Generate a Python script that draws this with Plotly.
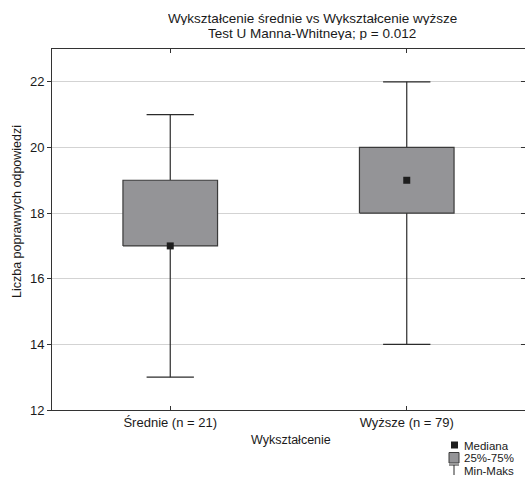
import plotly.graph_objects as go

# Group labels and summary statistics
categories = ["Średnie (n = 21)", "Wyższe (n = 79)"]
minimum = [13, 14]
q1 = [17, 18]
median = [17, 19]
q3 = [19, 20]
maximum = [21, 22]

y_ticks = [12, 14, 16, 18, 20, 22]

BOX_HALF = 0.2       # half box width in category units
CAP_HALF = 0.1       # half whisker-cap width
FONT = "Liberation Sans, Arial, sans-serif"
BOX_FILL = "#949497"
EDGE = "#2b2b2b"
TXT = "#1a1a1a"

fig = go.Figure()

for i, _ in enumerate(categories):
    # Whiskers with caps (min-max)
    fig.add_trace(go.Scatter(
        x=[i, i, None, i, i, None, i - CAP_HALF, i + CAP_HALF, None, i - CAP_HALF, i + CAP_HALF],
        y=[q3[i], maximum[i], None, q1[i], minimum[i], None,
           maximum[i], maximum[i], None, minimum[i], minimum[i]],
        mode="lines", line=dict(color=EDGE, width=1.2),
        hoverinfo="skip", showlegend=False,
    ))
    # Interquartile box (25%-75%)
    fig.add_trace(go.Scatter(
        x=[i - BOX_HALF, i + BOX_HALF, i + BOX_HALF, i - BOX_HALF, i - BOX_HALF],
        y=[q1[i], q1[i], q3[i], q3[i], q1[i]],
        mode="lines", fill="toself", fillcolor=BOX_FILL,
        line=dict(color="#3a3a3a", width=1.2),
        hoverinfo="skip", showlegend=False,
    ))

# Medians
fig.add_trace(go.Scatter(
    x=list(range(len(categories))), y=median, mode="markers",
    marker=dict(symbol="square", size=7, color="#1e1e1e"),
    showlegend=False, hoverinfo="skip",
))

# Empty trace carrying the right-hand tick axis
fig.add_trace(go.Scatter(x=[None], y=[None], yaxis="y2", showlegend=False, hoverinfo="skip"))

fig.update_layout(
    width=525, height=481,
    margin=dict(l=52, r=0, t=49, b=71),
    paper_bgcolor="white", plot_bgcolor="white",
    font=dict(family=FONT, size=13, color=TXT),
    showlegend=False,
    xaxis=dict(
        range=[-0.5, 1.5], tickvals=list(range(len(categories))), ticktext=categories,
        ticks="inside", ticklen=4, tickcolor="#333",
        showline=True, linecolor="#333", linewidth=1, mirror="ticks",
        showgrid=False, zeroline=False, automargin=False,
        tickfont=dict(size=13, color=TXT),
    ),
    yaxis=dict(
        range=[12, 23], tickvals=y_ticks,
        ticks="outside", ticklen=4, tickcolor="#333",
        showline=True, linecolor="#333", linewidth=1, mirror=False,
        showgrid=True, gridcolor="#d3d3d3", gridwidth=1, zeroline=False,
        automargin=False,
        tickfont=dict(size=13, color=TXT),
    ),
    yaxis2=dict(
        overlaying="y", side="right", range=[12, 23], tickvals=y_ticks,
        ticks="inside", ticklen=4, tickcolor="#333",
        showticklabels=False, showgrid=False, zeroline=False, showline=False,
        automargin=False,
    ),
)

# Paper-coordinate helpers (pixel position -> paper fraction)
def px(xp):
    return (xp - 52) / 473

def py(yp):
    return (410 - yp) / 361

# Title (two lines), axis titles
for line, yy in [("Wykształcenie średnie vs Wykształcenie wyższe", 18),
                 ("Test U Manna-Whitneya; p = 0.012", 33)]:
    fig.add_annotation(
        text=line, xref="paper", yref="paper", x=px(312), y=py(yy),
        xanchor="center", yanchor="middle", height=14,
        showarrow=False, font=dict(size=13.5, color=TXT),
    )
fig.add_annotation(
    text="Wykształcenie", xref="paper", yref="paper",
    x=px(291), y=py(440), xanchor="center", yanchor="middle",
    showarrow=False, font=dict(size=12.5, color=TXT),
)
fig.add_annotation(
    text="Liczba poprawnych odpowiedzi", xref="paper", yref="paper",
    x=px(17), y=py(212), textangle=-90,
    xanchor="center", yanchor="middle",
    showarrow=False, font=dict(size=12.5, color=TXT),
)

# Legend key
fig.add_shape(type="rect", xref="paper", yref="paper",
              x0=px(451), x1=px(458), y0=py(448.5), y1=py(441.5),
              fillcolor="#1e1e1e", line=dict(width=0))
fig.add_shape(type="rect", xref="paper", yref="paper",
              x0=px(449), x1=px(459), y0=py(463), y1=py(452.5),
              fillcolor=BOX_FILL, line=dict(color="#3a3a3a", width=1))
fig.add_shape(type="line", xref="paper", yref="paper",
              x0=px(449), x1=px(459), y0=py(465), y1=py(465),
              line=dict(color=EDGE, width=1))
fig.add_shape(type="line", xref="paper", yref="paper",
              x0=px(454), x1=px(454), y0=py(465), y1=py(475),
              line=dict(color=EDGE, width=1))
for label, yy in [("Mediana", 445), ("25%-75%", 457.5), ("Min-Maks", 470)]:
    fig.add_annotation(
        text=label, xref="paper", yref="paper",
        x=px(463), y=py(yy), xanchor="left", yanchor="middle",
        height=11, borderpad=0,
        showarrow=False, font=dict(size=11.5, color=TXT),
    )

fig.write_html("out.html")
